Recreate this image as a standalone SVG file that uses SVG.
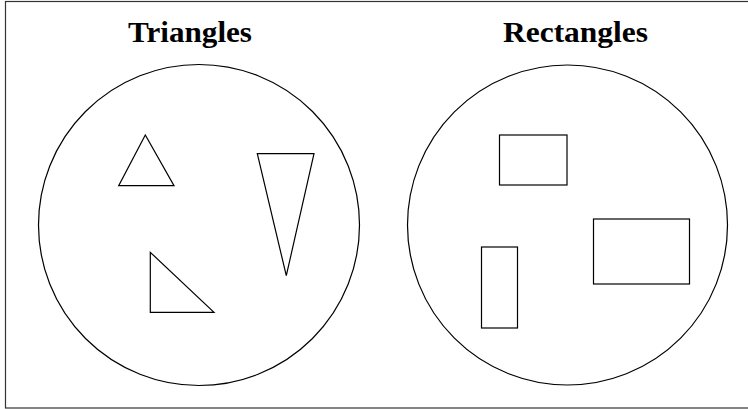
<svg xmlns="http://www.w3.org/2000/svg" width="748" height="409" viewBox="0 0 748 409">
<style>
.s{fill:none;stroke:#000;stroke-width:1.2}
.t{font-family:"Liberation Serif","DejaVu Serif",serif;font-weight:bold;font-size:30px;fill:#000;text-anchor:middle}
</style>
<rect x="0" y="0" width="748" height="409" fill="#fff"/>
<rect x="5.5" y="1.5" width="746" height="406.5" fill="none" stroke="#333" stroke-width="1.2"/>
<g id="triangles">
<text class="t" x="190" y="42" textLength="124" lengthAdjust="spacingAndGlyphs">Triangles</text>
<circle class="s" cx="199" cy="225" r="160.5"/>
<polygon id="tri1" class="s" points="145.3,135 118.7,185.7 174,185.7"/>
<polygon id="tri2" class="s" points="257.3,153.7 314,153.7 286.3,275.7"/>
<polygon id="tri3" class="s" points="150.3,252.3 150.3,312.3 214,312.3"/>
</g>
<g id="rectangles">
<text class="t" x="575.5" y="42" textLength="145" lengthAdjust="spacingAndGlyphs">Rectangles</text>
<circle class="s" cx="567.5" cy="225" r="160"/>
<rect id="rect1" class="s" x="499.5" y="135" width="67.5" height="50"/>
<rect id="rect2" class="s" x="593.5" y="219" width="96" height="65"/>
<rect id="rect3" class="s" x="481.5" y="247" width="36" height="81"/>
</g>
<g id="connectors"/>
</svg>
